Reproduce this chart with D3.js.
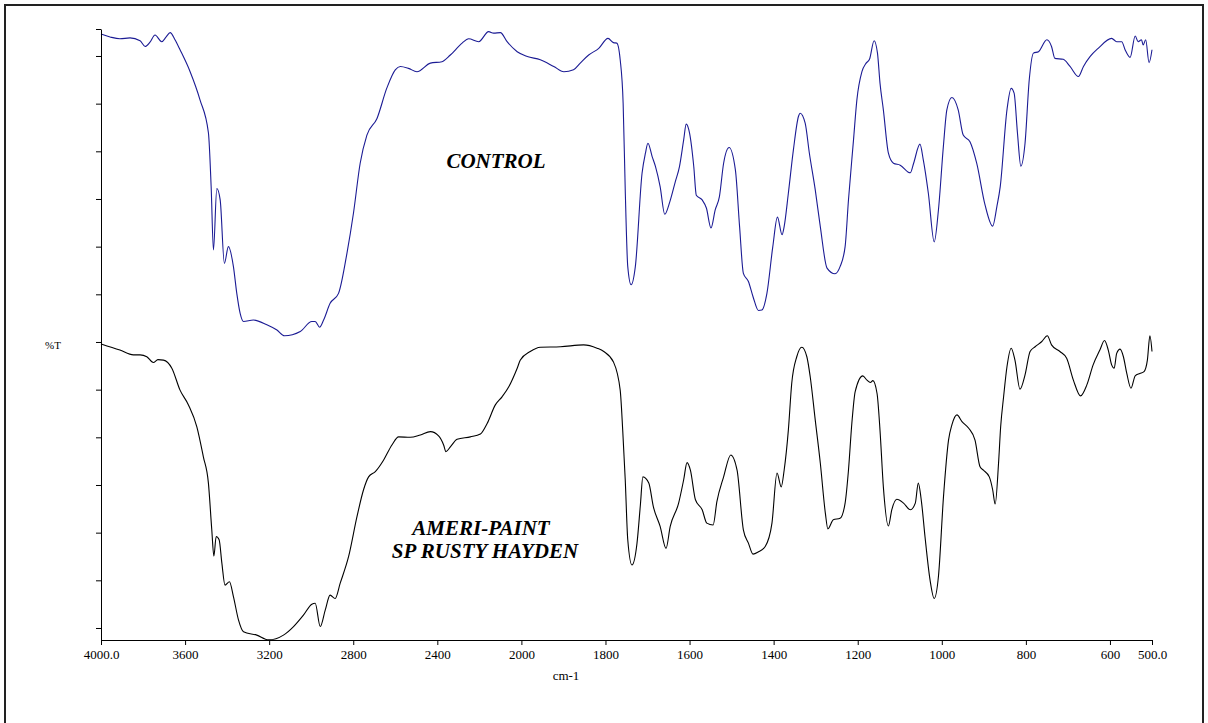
<!DOCTYPE html>
<html>
<head>
<meta charset="utf-8">
<script src="https://cdn.jsdelivr.net/npm/d3@7"></script>
<style>
  body { margin: 0; background: #fff; }
  svg { display: block; }
  text { font-family: "Liberation Serif", "Times New Roman", serif; }
</style>
</head>
<body>
<div id="chart"></div>
<script>
// IR spectra: control vs paint sample (wavenumber cm-1, %T offset units)
const controlSpectrum = [
  [4000,124.6],[3957,124.0],[3910,123.6],[3862,123.8],[3814,123.2],[3790,122.0],[3767,122.9],[3743,124.4],
  [3711,123.0],[3690,124.0],[3671,124.9],[3648,123.4],[3624,121.3],[3576,116.7],[3529,110.8],[3489,103.9],
  [3476,92.6],[3465,79.3],[3449,92.2],[3433,89.8],[3413,76.5],[3394,80.0],[3370,75.8],[3354,70.2],
  [3338,66.0],[3322,64.3],[3275,64.6],[3211,63.6],[3163,62.5],[3127,61.3],[3052,62.2],[2997,64.3],
  [2981,64.3],[2960,63.1],[2941,64.6],[2910,68.1],[2870,70.2],[2830,78.6],[2799,87.0],[2767,97.5],
  [2735,103.4],[2687,106.9],[2640,113.3],[2600,117.1],[2576,117.8],[2537,117.4],[2497,116.7],[2433,118.5],
  [2378,118.8],[2338,120.2],[2282,122.7],[2251,123.6],[2203,123.0],[2156,125.1],[2132,124.8],[2100,124.9],
  [2068,123.0],[2020,120.9],[1986,119.9],[1955,119.2],[1923,117.8],[1899,116.7],[1876,117.1],[1860,118.5],
  [1840,120.2],[1816,121.6],[1794,123.7],[1781,122.8],[1773,122.7],[1765,119.2],[1758,110.1],[1753,91.9],
  [1747,75.8],[1739,72.0],[1729,75.8],[1713,95.4],[1705,99.6],[1699,101.7],[1689,98.9],[1681,96.8],
  [1670,92.6],[1659,86.8],[1647,89.4],[1634,93.6],[1624,96.8],[1614,102.4],[1608,105.7],[1600,103.8],
  [1590,96.8],[1584,90.8],[1570,89.8],[1560,88.1],[1549,83.9],[1539,87.7],[1529,90.5],[1519,97.5],
  [1506,100.8],[1491,96.1],[1481,84.2],[1472,74.4],[1460,72.7],[1449,69.5],[1436,66.6],[1428,66.7],
  [1416,70.2],[1402,80.0],[1391,86.2],[1380,82.5],[1375,84.2],[1365,91.2],[1353,100.3],[1341,107.3],
  [1337,108.0],[1325,105.9],[1315,99.6],[1301,91.9],[1289,84.2],[1273,75.5],[1254,74.3],[1242,75.8],
  [1230,80.0],[1222,89.8],[1210,102.4],[1202,110.8],[1190,116.7],[1180,118.5],[1172,119.3],[1161,123.2],
  [1153,120.6],[1147,114.3],[1139,108.7],[1127,99.6],[1115,97.5],[1099,97.1],[1075,95.5],[1067,97.5],
  [1052,101.5],[1044,98.2],[1032,91.2],[1018,81.0],[1008,87.7],[996,101.3],[988,108.7],[976,111.3],
  [961,108.7],[949,103.4],[933,102.0],[917,97.5],[897,88.7],[879,84.3],[869,88.4],[861,92.6],
  [845,108.7],[835,113.2],[828,112.2],[820,103.8],[812,96.9],[802,101.7],[792,115.0],[782,120.6],
  [770,120.9],[750,123.4],[739,122.0],[731,119.5],[711,119.3],[695,117.8],[675,115.7],[663,117.8],
  [647,119.9],[628,121.6],[596,123.7],[584,123.0],[572,123.0],[564,121.3],[552,119.7],[540,124.2],
  [533,123.0],[525,123.4],[521,122.3],[515,123.4],[507,118.6],[500,121.3]
];

const paintSpectrum = [
  [4000,59.6],[3910,58.3],[3846,57.3],[3814,57.3],[3782,56.9],[3751,55.7],[3729,56.3],[3703,56.2],
  [3663,54.5],[3624,49.9],[3584,46.8],[3544,42.2],[3513,35.9],[3489,30.4],[3473,20.6],[3463,15.1],
  [3452,19.2],[3438,18.5],[3425,13.6],[3410,9.0],[3389,9.7],[3370,6.6],[3346,1.7],[3322,-0.8],
  [3259,-1.5],[3203,-2.5],[3132,-1.5],[3084,0.3],[3037,2.7],[2997,5.0],[2981,5.2],[2957,0.3],
  [2933,3.8],[2910,6.9],[2886,6.2],[2862,9.4],[2822,15.0],[2782,23.4],[2751,29.0],[2727,31.7],
  [2695,32.8],[2656,35.2],[2616,38.4],[2584,40.1],[2529,40.0],[2481,40.5],[2433,41.2],[2394,40.3],
  [2370,38.4],[2359,37.0],[2338,38.0],[2306,39.6],[2243,40.1],[2195,40.7],[2163,42.9],[2124,46.8],
  [2092,48.5],[2060,50.6],[2020,54.5],[2005,56.2],[1979,58.0],[1955,58.9],[1907,59.0],[1852,59.4],
  [1820,58.7],[1804,58.0],[1781,55.8],[1765,49.9],[1759,41.5],[1753,31.1],[1747,18.5],[1737,13.2],
  [1725,17.8],[1717,25.8],[1711,31.7],[1697,30.4],[1686,25.4],[1670,21.3],[1656,16.7],[1646,21.3],
  [1626,26.2],[1614,31.1],[1606,34.7],[1598,33.1],[1586,26.9],[1570,24.8],[1559,22.0],[1544,21.6],
  [1535,26.5],[1519,31.7],[1502,36.3],[1487,33.1],[1472,20.6],[1460,17.8],[1449,15.5],[1436,16.0],
  [1420,17.1],[1404,22.0],[1392,32.5],[1382,29.6],[1375,33.1],[1365,41.5],[1357,51.3],[1345,56.9],
  [1333,58.9],[1321,56.9],[1313,52.7],[1301,43.6],[1289,34.6],[1277,24.1],[1271,20.8],[1258,22.7],
  [1242,23.0],[1230,26.2],[1222,33.1],[1214,42.9],[1206,49.6],[1188,52.9],[1178,52.0],[1170,51.5],
  [1164,51.9],[1154,49.2],[1147,41.5],[1139,29.6],[1127,21.4],[1119,24.8],[1107,27.0],[1091,26.2],
  [1075,24.8],[1063,26.2],[1056,30.4],[1048,26.2],[1040,19.2],[1028,10.1],[1018,6.2],[1008,10.8],
  [996,27.5],[984,39.4],[976,42.6],[964,44.7],[952,43.3],[936,41.9],[921,39.4],[909,33.8],
  [901,33.1],[887,31.7],[879,29.0],[873,26.0],[865,34.6],[860,42.2],[853,48.5],[845,54.8],
  [835,58.7],[826,56.2],[814,50.1],[802,53.1],[790,58.0],[778,59.0],[762,60.1],[749,61.3],
  [739,59.4],[719,58.0],[703,56.6],[687,52.0],[670,48.7],[655,51.0],[640,55.2],[624,58.3],
  [613,60.3],[604,58.3],[596,55.2],[590,54.5],[584,57.6],[576,58.5],[568,56.9],[560,53.4],
  [550,50.3],[540,52.9],[529,53.4],[519,53.8],[511,56.2],[505,61.3],[500,58.0]
];

const xTickValues = [4000, 3600, 3200, 2800, 2400, 2000, 1800, 1600, 1400, 1200, 1000, 800, 600, 500];
const yTickValues = [0, 10, 20, 30, 40, 50, 60, 70, 80, 90, 100, 110, 120, 125.66];
const xBreaks = [4000, 2000, 500];   // scale changes at 2000 cm-1
const yExtent = [-2.52, 125.66];

const width = 1208;
const height = 723;
const plot = { left: 101, right: 1152, top: 29, bottom: 640 };

const svg = d3.select("#chart").append("svg")
    .attr("width", width)
    .attr("height", height);

// frame around the whole page
svg.append("rect")
    .attr("x", 5)
    .attr("y", 5)
    .attr("width", 1198)
    .attr("height", 730)
    .attr("fill", "none")
    .attr("stroke", "#222")
    .attr("stroke-width", 2);

// x is expanded below 2000 cm-1, as on the instrument printout
const xMid = plot.left + (plot.right - plot.left) * 0.4;
const x = d3.scaleLinear()
    .domain(xBreaks)
    .range([plot.left, xMid, plot.right]);

const y = d3.scaleLinear()
    .domain(yExtent)
    .range([plot.bottom, plot.top]);

const line = d3.line()
    .curve(d3.curveMonotoneX)
    .x(d => x(d[0]))
    .y(d => y(d[1]));

svg.append("path")
    .datum(controlSpectrum)
    .attr("fill", "none")
    .attr("stroke", "#1b1b94")
    .attr("stroke-width", 1.1)
    .attr("stroke-linejoin", "round")
    .attr("d", line);

svg.append("path")
    .datum(paintSpectrum)
    .attr("fill", "none")
    .attr("stroke", "#000")
    .attr("stroke-width", 1.1)
    .attr("stroke-linejoin", "round")
    .attr("d", line);

const fmtX = d => (d === 4000 || d === 500) ? d.toFixed(1) : String(d);

const xAxis = svg.append("g")
    .attr("transform", `translate(0,${plot.bottom})`)
    .call(d3.axisBottom(x).tickValues(xTickValues).tickFormat(fmtX).tickSize(5).tickSizeOuter(0));

const yAxis = svg.append("g")
    .attr("transform", `translate(${plot.left},0)`)
    .call(d3.axisLeft(y).tickValues(yTickValues).tickFormat("").tickSize(5).tickSizeOuter(0));

svg.selectAll("g").attr("font-family", "Liberation Serif, serif");

svg.selectAll(".domain, .tick line")
    .attr("stroke", "#000")
    .attr("stroke-width", 1);

xAxis.selectAll("text")
    .attr("dy", "1em")
    .attr("y", 6)
    .style("font-size", "13px")
    .attr("fill", "#000");

svg.append("text")
    .attr("x", 566)
    .attr("y", 680)
    .attr("text-anchor", "middle")
    .style("font-size", "13px")
    .text("cm-1");

svg.append("text")
    .attr("x", 53)
    .attr("y", 349)
    .attr("text-anchor", "middle")
    .style("font-size", "11px")
    .text("%T");

// sample names
const label = (txt, cx, by) => svg.append("text")
    .attr("x", cx)
    .attr("y", by)
    .attr("text-anchor", "middle")
    .style("font-size", "21px")
    .style("font-weight", "bold")
    .style("font-style", "italic")
    .text(txt);

label("CONTROL", 496, 168);
label("AMERI-PAINT", 481, 535);
label("SP RUSTY HAYDEN", 485, 558);
</script>
</body>
</html>
